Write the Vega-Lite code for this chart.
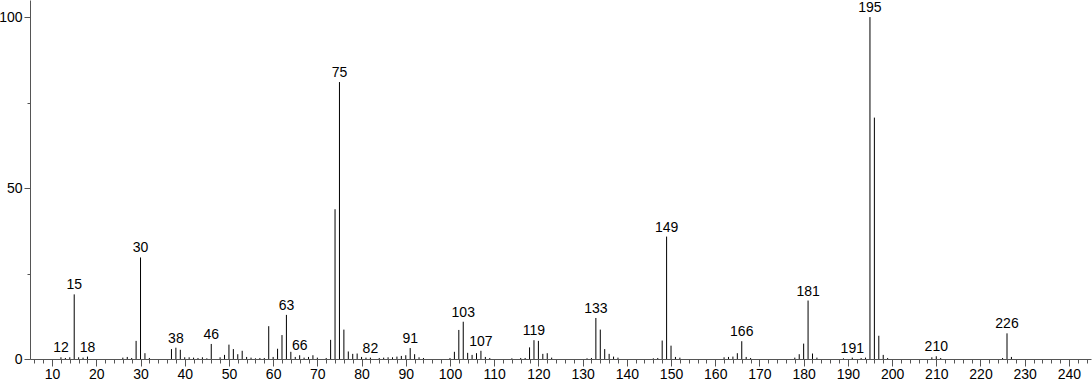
{
  "$schema": "https://vega.github.io/schema/vega-lite/v6.json",
  "width": 1061,
  "height": 359,
  "autosize": {"type": "none"},
  "padding": {"left": 30, "top": 0, "right": 1, "bottom": 25},
  "background": "white",
  "config": {
    "view": {"stroke": null},
    "font": "Liberation Sans",
    "axis": {"grid": false, "labelFont": "Liberation Sans", "labelFontSize": 14, "labelColor": "#000", "domainColor": "#555", "tickColor": "#555", "title": null}
  },
  "data": {
    "values": [
      {"m": 12, "i": 0.5, "lab": 1}, {"m": 13, "i": 0.3, "lab": 0}, {"m": 14, "i": 0.5, "lab": 0},
      {"m": 15, "i": 18.9, "lab": 1}, {"m": 16, "i": 0.5, "lab": 0}, {"m": 17, "i": 0.4, "lab": 0},
      {"m": 18, "i": 0.7, "lab": 1}, {"m": 26, "i": 0.4, "lab": 0}, {"m": 27, "i": 0.6, "lab": 0},
      {"m": 28, "i": 0.3, "lab": 0}, {"m": 29, "i": 5.3, "lab": 0}, {"m": 30, "i": 29.7, "lab": 1},
      {"m": 31, "i": 1.7, "lab": 0}, {"m": 32, "i": 0.3, "lab": 0}, {"m": 37, "i": 2.9, "lab": 0},
      {"m": 38, "i": 3.3, "lab": 1}, {"m": 39, "i": 2.7, "lab": 0}, {"m": 40, "i": 0.5, "lab": 0},
      {"m": 41, "i": 0.5, "lab": 0}, {"m": 42, "i": 0.4, "lab": 0}, {"m": 43, "i": 0.3, "lab": 0},
      {"m": 44, "i": 0.5, "lab": 0}, {"m": 45, "i": 0.2, "lab": 0}, {"m": 46, "i": 4.4, "lab": 1},
      {"m": 48, "i": 0.5, "lab": 0}, {"m": 49, "i": 1.2, "lab": 0}, {"m": 50, "i": 4.2, "lab": 0},
      {"m": 51, "i": 2.9, "lab": 0}, {"m": 52, "i": 1.4, "lab": 0}, {"m": 53, "i": 2.4, "lab": 0},
      {"m": 54, "i": 0.6, "lab": 0}, {"m": 55, "i": 0.4, "lab": 0}, {"m": 56, "i": 0.2, "lab": 0},
      {"m": 57, "i": 0.3, "lab": 0}, {"m": 58, "i": 0.3, "lab": 0}, {"m": 59, "i": 9.6, "lab": 0},
      {"m": 60, "i": 0.6, "lab": 0}, {"m": 61, "i": 3.0, "lab": 0}, {"m": 62, "i": 7.0, "lab": 0},
      {"m": 63, "i": 12.9, "lab": 1}, {"m": 64, "i": 2.1, "lab": 0}, {"m": 65, "i": 0.6, "lab": 0},
      {"m": 66, "i": 1.1, "lab": 1}, {"m": 67, "i": 0.4, "lab": 0}, {"m": 68, "i": 0.6, "lab": 0},
      {"m": 69, "i": 1.1, "lab": 0}, {"m": 70, "i": 0.4, "lab": 0}, {"m": 72, "i": 0.3, "lab": 0},
      {"m": 73, "i": 5.6, "lab": 0}, {"m": 74, "i": 43.8, "lab": 0}, {"m": 75, "i": 81.0, "lab": 1},
      {"m": 76, "i": 8.6, "lab": 0}, {"m": 77, "i": 2.2, "lab": 0}, {"m": 78, "i": 1.5, "lab": 0},
      {"m": 79, "i": 1.6, "lab": 0}, {"m": 80, "i": 0.6, "lab": 0}, {"m": 81, "i": 0.4, "lab": 0},
      {"m": 82, "i": 0.4, "lab": 1}, {"m": 84, "i": 0.3, "lab": 0}, {"m": 85, "i": 0.4, "lab": 0},
      {"m": 86, "i": 0.5, "lab": 0}, {"m": 87, "i": 0.5, "lab": 0}, {"m": 88, "i": 0.7, "lab": 0},
      {"m": 89, "i": 0.9, "lab": 0}, {"m": 90, "i": 1.1, "lab": 0}, {"m": 91, "i": 3.2, "lab": 1},
      {"m": 92, "i": 1.4, "lab": 0}, {"m": 93, "i": 0.5, "lab": 0}, {"m": 94, "i": 0.3, "lab": 0},
      {"m": 100, "i": 0.3, "lab": 0}, {"m": 101, "i": 2.1, "lab": 0}, {"m": 102, "i": 8.5, "lab": 0},
      {"m": 103, "i": 10.9, "lab": 1}, {"m": 104, "i": 1.8, "lab": 0}, {"m": 105, "i": 1.2, "lab": 0},
      {"m": 106, "i": 1.7, "lab": 0}, {"m": 107, "i": 2.4, "lab": 1}, {"m": 108, "i": 0.6, "lab": 0},
      {"m": 109, "i": 0.3, "lab": 0}, {"m": 114, "i": 0.2, "lab": 0}, {"m": 116, "i": 0.3, "lab": 0},
      {"m": 117, "i": 0.3, "lab": 0}, {"m": 118, "i": 3.4, "lab": 0}, {"m": 119, "i": 5.5, "lab": 1},
      {"m": 120, "i": 5.3, "lab": 0}, {"m": 121, "i": 1.5, "lab": 0}, {"m": 122, "i": 1.7, "lab": 0},
      {"m": 123, "i": 0.4, "lab": 0}, {"m": 131, "i": 0.2, "lab": 0}, {"m": 132, "i": 0.3, "lab": 0},
      {"m": 133, "i": 12.0, "lab": 1}, {"m": 134, "i": 8.6, "lab": 0}, {"m": 135, "i": 2.9, "lab": 0},
      {"m": 136, "i": 1.5, "lab": 0}, {"m": 137, "i": 0.7, "lab": 0}, {"m": 138, "i": 0.4, "lab": 0},
      {"m": 146, "i": 0.2, "lab": 0}, {"m": 147, "i": 0.3, "lab": 0}, {"m": 148, "i": 5.4, "lab": 0},
      {"m": 149, "i": 35.8, "lab": 1}, {"m": 150, "i": 3.9, "lab": 0}, {"m": 151, "i": 0.6, "lab": 0},
      {"m": 152, "i": 0.4, "lab": 0}, {"m": 162, "i": 0.5, "lab": 0}, {"m": 163, "i": 0.6, "lab": 0},
      {"m": 164, "i": 0.7, "lab": 0}, {"m": 165, "i": 1.7, "lab": 0}, {"m": 166, "i": 5.2, "lab": 1},
      {"m": 167, "i": 0.6, "lab": 0}, {"m": 168, "i": 0.3, "lab": 0}, {"m": 178, "i": 0.4, "lab": 0},
      {"m": 179, "i": 1.4, "lab": 0}, {"m": 180, "i": 4.5, "lab": 0}, {"m": 181, "i": 17.1, "lab": 1},
      {"m": 182, "i": 1.6, "lab": 0}, {"m": 183, "i": 0.4, "lab": 0}, {"m": 189, "i": 0.2, "lab": 0},
      {"m": 191, "i": 0.4, "lab": 1}, {"m": 193, "i": 0.3, "lab": 0}, {"m": 194, "i": 0.4, "lab": 0},
      {"m": 195, "i": 100.0, "lab": 1}, {"m": 196, "i": 70.6, "lab": 0}, {"m": 197, "i": 6.8, "lab": 0},
      {"m": 198, "i": 1.2, "lab": 0}, {"m": 199, "i": 0.3, "lab": 0}, {"m": 209, "i": 0.5, "lab": 0},
      {"m": 210, "i": 0.8, "lab": 1}, {"m": 211, "i": 0.3, "lab": 0}, {"m": 225, "i": 0.3, "lab": 0},
      {"m": 226, "i": 7.5, "lab": 1}, {"m": 227, "i": 0.6, "lab": 0}
    ]
  },
  "layer": [
    {
      "mark": {"type": "rule", "color": "#000", "strokeWidth": 1},
      "encoding": {
        "x": {
          "field": "m", "type": "quantitative",
          "scale": {"domain": [5, 245], "nice": false, "zero": false},
          "axis": {
            "values": [6,8,10,12,14,16,18,20,22,24,26,28,30,32,34,36,38,40,42,44,46,48,50,52,54,56,58,60,62,64,66,68,70,72,74,76,78,80,82,84,86,88,90,92,94,96,98,100,102,104,106,108,110,112,114,116,118,120,122,124,126,128,130,132,134,136,138,140,142,144,146,148,150,152,154,156,158,160,162,164,166,168,170,172,174,176,178,180,182,184,186,188,190,192,194,196,198,200,202,204,206,208,210,212,214,216,218,220,222,224,226,228,230,232,234,236,238,240,242,244],
            "tickCount": 500,
            "format": "d",
            "labelExpr": "datum.value % 10 === 0 ? datum.label : ''",
            "tickSize": {"condition": {"test": "datum.value % 10 === 0", "value": 7}, "value": 4},
            "labelPadding": 1,
            "labelFlush": false,
            "labelOverlap": false
          }
        },
        "y": {
          "field": "i", "type": "quantitative",
          "scale": {"domain": [0, 105], "nice": false},
          "axis": {
            "values": [0, 25, 50, 75, 100],
            "tickCount": 50,
            "format": "d",
            "labelExpr": "datum.value % 50 === 0 ? datum.label : ''",
            "tickSize": {"condition": {"test": "datum.value % 50 === 0", "value": 6}, "value": 3},
            "labelPadding": 2,
            "labelFlush": false,
            "labelOverlap": false
          }
        },
        "y2": {"datum": 0}
      }
    },
    {
      "transform": [{"filter": "datum.lab == 1"}],
      "mark": {"type": "text", "baseline": "bottom", "align": "center", "dy": -2, "fontSize": 14, "color": "#000"},
      "encoding": {
        "x": {"field": "m", "type": "quantitative"},
        "y": {"field": "i", "type": "quantitative"},
        "text": {"field": "m", "type": "quantitative", "format": "d"}
      }
    }
  ]
}
